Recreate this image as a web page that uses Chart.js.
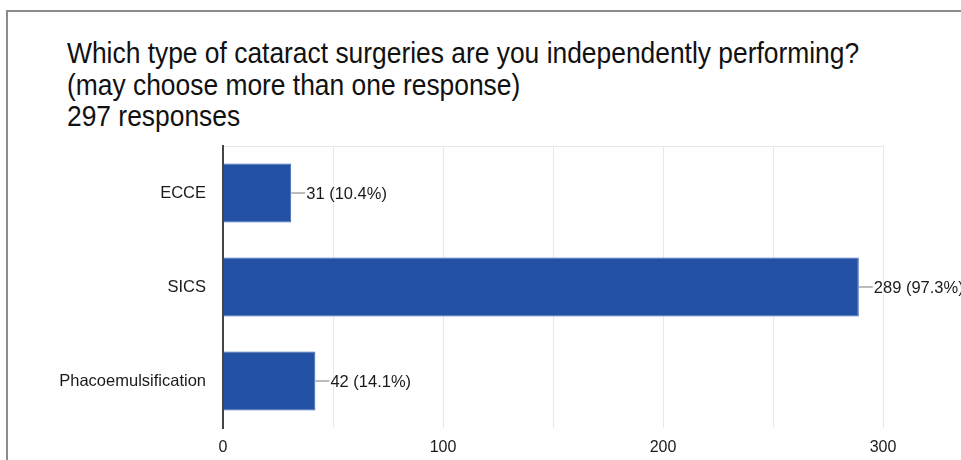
<!DOCTYPE html>
<html>
<head>
<meta charset="utf-8">
<script src="https://cdn.jsdelivr.net/npm/chart.js@4"></script>
<style>
  html, body { margin: 0; padding: 0; background: #fff; }
  body { width: 961px; height: 460px; position: relative; overflow: hidden; }
  .frame {
    position: absolute; left: 6px; top: 10px; width: 1000px; height: 500px;
    border-left: 2px solid #8c8c8c; border-top: 2px solid #8c8c8c;
  }
  .title {
    position: absolute; left: 67px; top: 38px;
    font-family: 'Liberation Sans', Arial, sans-serif;
    font-size: 29px; line-height: 31.5px; color: #111;
    white-space: nowrap;
    transform: scaleX(0.91); transform-origin: 0 0;
  }
  #surgChart { position: absolute; left: 0; top: 0; }
</style>
</head>
<body>
<div class="frame"></div>
<div class="title" id="title"></div>
<canvas id="surgChart" width="961" height="460"></canvas>
<script>
  /* ---------- Data ---------- */
  const titleLines = [
    "Which type of cataract surgeries are you independently performing?",
    "(may choose more than one response)",
    "297 responses"
  ];
  const categories = ["ECCE", "SICS", "Phacoemulsification"];
  const counts     = [31, 289, 42];
  const percents   = [10.4, 97.3, 14.1];
  const xTicks     = [0, 100, 200, 300];
  const xGrid      = [0, 50, 100, 150, 200, 250, 300];

  const FONT = "'Liberation Sans', Arial, sans-serif";

  document.getElementById("title").innerHTML =
    titleLines.map(t => `<div>${t}</div>`).join("");

  /* leader line + "n (p%)" at the end of each bar */
  const valueLabels = {
    id: "valueLabels",
    afterDatasetsDraw(chart) {
      const { ctx } = chart;
      const meta = chart.getDatasetMeta(0);
      ctx.save();
      meta.data.forEach((bar, i) => {
        const x = bar.x, y = bar.y;
        ctx.strokeStyle = "#8f8f8f";
        ctx.lineWidth = 1.2;
        ctx.beginPath();
        ctx.moveTo(x, y);
        ctx.lineTo(x + 14, y);
        ctx.stroke();
        ctx.fillStyle = "#1a1a1a";
        ctx.font = `16.5px ${FONT}`;
        ctx.textAlign = "left";
        ctx.textBaseline = "middle";
        ctx.fillText(`${counts[i]} (${percents[i]}%)`, x + 15, y + 1);
      });
      ctx.restore();
    }
  };

  new Chart(document.getElementById("surgChart"), {
    type: "bar",
    data: {
      labels: categories,
      datasets: [{
        data: counts,
        backgroundColor: "#2352a4",
        borderColor: "#3a66b4",
        borderWidth: 1,
        barPercentage: 0.63,
        categoryPercentage: 1
      }]
    },
    options: {
      indexAxis: "y",
      responsive: false,
      animation: false,
      devicePixelRatio: 1,
      layout: { padding: { left: 40, right: 78, top: 146, bottom: 0 } },
      plugins: {
        legend: { display: false },
        tooltip: { enabled: false },
        title: { display: false }
      },
      scales: {
        x: {
          min: 0, max: 300,
          afterBuildTicks: s => { s.ticks = xGrid.map(v => ({ value: v })); },
          grid: { color: "#e8e8e8", lineWidth: 1, drawTicks: false },
          border: { display: false },
          ticks: {
            padding: 10,
            color: "#1a1a1a",
            font: { family: FONT, size: 16 },
            callback: v => xTicks.includes(v) ? v : ""
          },
          afterFit: s => { s.height = 32; }
        },
        y: {
          grid: {
            offset: true,
            drawTicks: false,
            // only the top and bottom edges of the plot get a line
            color: c => (c.index === 0 || c.index === categories.length) ? "#e8e8e8" : "rgba(0,0,0,0)"
          },
          border: { display: true, color: "#444", width: 2 },
          ticks: {
            padding: 17,
            color: "#1a1a1a",
            font: { family: FONT, size: 16.5 }
          },
          afterFit: s => { s.width = 223 - 40; }
        }
      }
    },
    plugins: [valueLabels]
  });
</script>
</body>
</html>
